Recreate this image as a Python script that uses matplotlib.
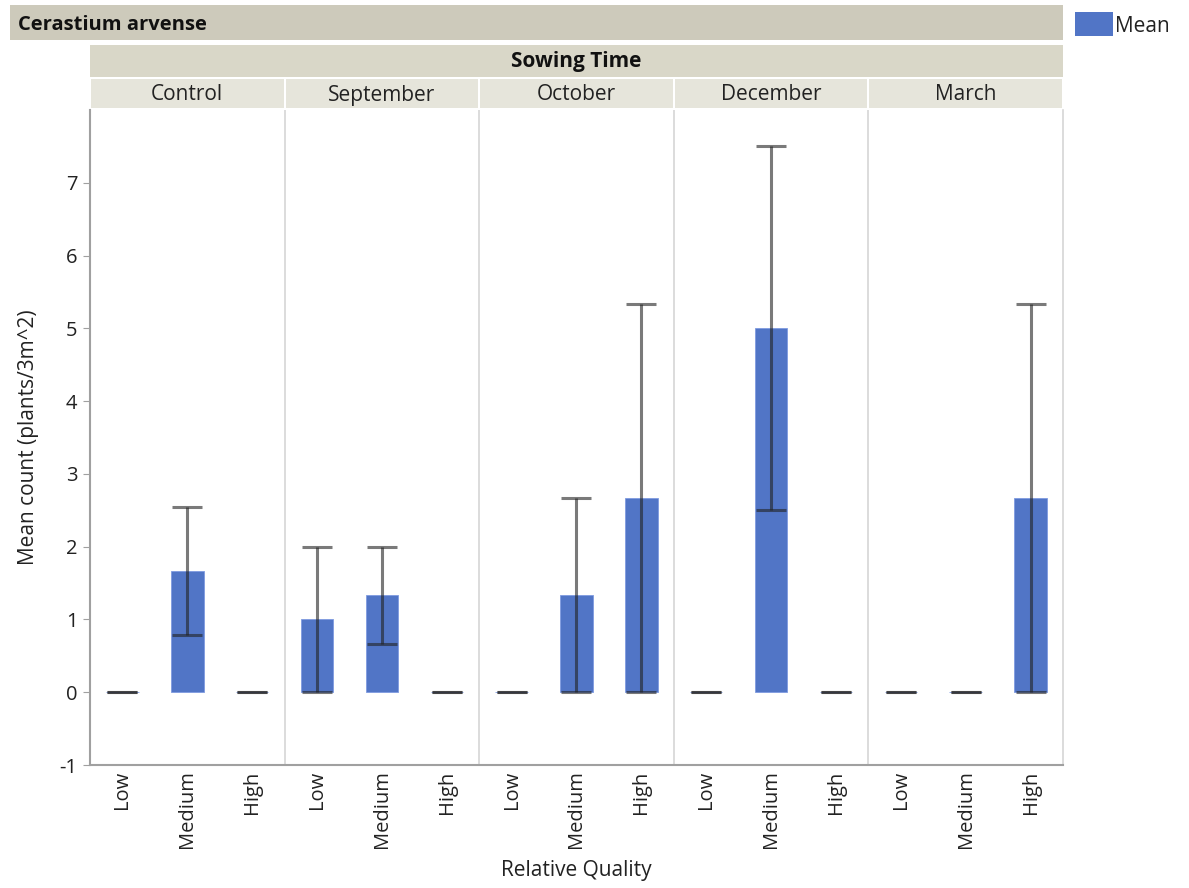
import matplotlib
matplotlib.use("Agg")
import matplotlib.pyplot as plt
from matplotlib.patches import Rectangle
import numpy as np

plt.rcParams['font.family'] = ['Open Sans', 'DejaVu Sans']
plt.rcParams['axes.unicode_minus'] = False

title = "Cerastium arvense"
facet_title = "Sowing Time"
panels = ["Control", "September", "October", "December", "March"]
qualities = ["Low", "Medium", "High"]
means = [
    [0, 1.667, 0],
    [1.0, 1.333, 0],
    [0, 1.333, 2.667],
    [0, 5.0, 0],
    [0, 0, 2.667],
]
lower = [
    [0, 0.78, 0],
    [0, 0.667, 0],
    [0, 0, 0],
    [0, 2.5, 0],
    [0, 0, 0],
]
upper = [
    [0, 2.55, 0],
    [2.0, 2.0, 0],
    [0, 2.667, 5.333],
    [0, 7.5, 0],
    [0, 0, 5.333],
]
yticks = [-1, 0, 1, 2, 3, 4, 5, 6, 7]

FS = 14.5
W, H = 1189, 888
fig = plt.figure(figsize=(W / 100, H / 100), dpi=100)
L, R, T, B = 90, 1063, 110, 765
ax = fig.add_axes([L / W, 1 - B / H, (R - L) / W, (B - T) / H])

bar_color = "#5175C6"
n = len(qualities)
for p, name in enumerate(panels):
    xs = np.arange(n) + p * n
    m = np.array(means[p])
    lo = np.array(lower[p])
    hi = np.array(upper[p])
    ax.bar(xs, m, width=0.5, color=bar_color, edgecolor="#7f9be0", linewidth=0.6, zorder=2)
    ax.errorbar(xs, m, yerr=[m - lo, hi - m], fmt="none", ecolor="#222222", alpha=0.6,
                elinewidth=2.2, capsize=11, capthick=2.2, zorder=3)
    if p > 0:
        ax.axvline(p * n - 0.5, color="#d6d6d6", linewidth=1.2, zorder=1)

ax.set_xlim(-0.5, len(panels) * n - 0.5)
ax.set_ylim(-1, 8)
ax.set_yticks(yticks)
ax.set_xticks(np.arange(len(panels) * n))
ax.set_xticklabels(qualities * len(panels), rotation=90, fontsize=FS, color="#222222")
ax.tick_params(axis="x", length=0, pad=4)
ax.tick_params(axis="y", length=5, color="#a0a0a0", labelsize=FS, labelcolor="#222222", pad=4)
for s in ["left", "bottom"]:
    ax.spines[s].set_color("#a0a0a0")
    ax.spines[s].set_linewidth(1.5)
ax.spines["right"].set_color("#d6d6d6")
ax.spines["right"].set_linewidth(1.2)
ax.spines["top"].set_visible(False)

ax.set_ylabel("Mean count (plants/3m^2)", fontsize=FS + 0.5, color="#222222", labelpad=15)
ax.set_xlabel("Relative Quality", fontsize=FS + 0.5, color="#222222", labelpad=8)


def frect(x0, y0, x1, y1, color):
    fig.patches.append(Rectangle((x0 / W, 1 - y1 / H), (x1 - x0) / W, (y1 - y0) / H,
                                 transform=fig.transFigure, facecolor=color,
                                 edgecolor="none", zorder=0))


# Title bar
frect(10, 5, R, 40, "#cdcabb")
fig.text(18 / W, 1 - 25 / H, title, fontsize=FS, fontweight="bold", color="#111111",
         ha="left", va="center")
# Facet header
frect(L, 45, R, 77, "#d9d7c8")
fig.text((L + R) / 2 / W, 1 - 62 / H, facet_title, fontsize=FS + 0.5, fontweight="bold",
         color="#111111", ha="center", va="center")
pw = (R - L) / len(panels)
for p, name in enumerate(panels):
    x0 = L + p * pw
    frect(x0 + 1, 79, x0 + pw - 1, 108, "#e6e5db")
    fig.text((x0 + pw / 2) / W, 1 - 95 / H, name, fontsize=FS + 0.5, color="#222222",
             ha="center", va="center")

# Legend
frect(1075, 12, 1113, 36, bar_color)
fig.text(1115 / W, 1 - 26 / H, "Mean", fontsize=FS + 0.5, color="#222222", ha="left", va="center")

fig.savefig("out.png", dpi=100, facecolor="white")
